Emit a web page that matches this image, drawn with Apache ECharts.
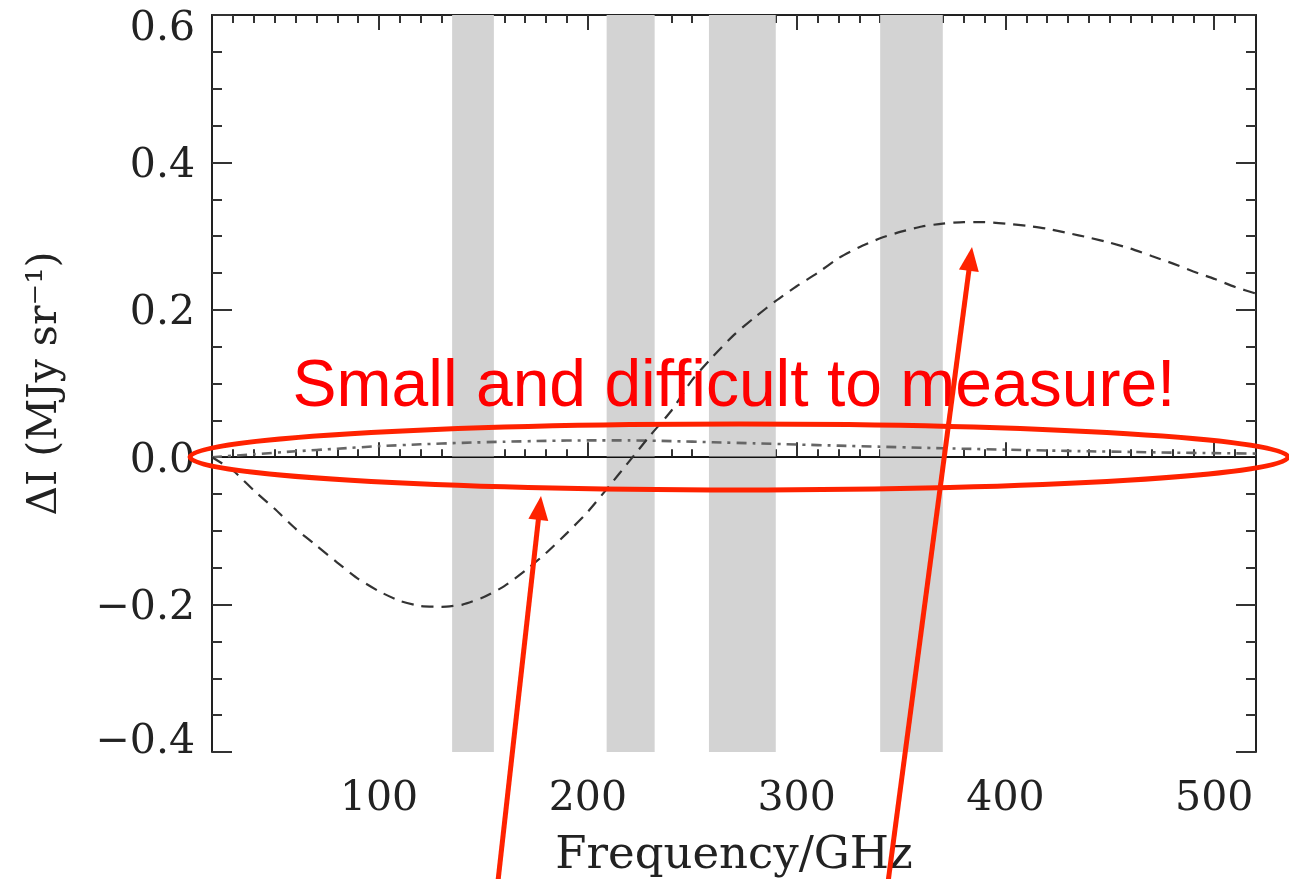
<!DOCTYPE html>
<html>
<head>
<meta charset="utf-8">
<title>SZ spectrum</title>
<script src="https://cdn.jsdelivr.net/npm/echarts@6/dist/echarts.min.js"></script>
<style>
  html, body { margin: 0; padding: 0; background: #fff; }
  #main { width: 1289px; height: 879px; }
</style>
</head>
<body>
<div id="main"></div>
<script>
// frequency grid (GHz)
const freqDash = [20, 30, 40, 50, 60, 70, 80, 90, 100, 110, 120, 130, 140, 150, 160, 170, 180, 190, 200,
  210, 220, 230, 240, 250, 260, 270, 280, 290, 300, 310, 320, 330, 340, 350, 360, 370, 380, 390, 400,
  410, 420, 430, 440, 450, 460, 470, 480, 490, 500, 510, 520]
// dashed curve, MJy/sr
const dashVals = [0.0, -0.018, -0.045, -0.07, -0.097, -0.12, -0.143, -0.165, -0.182, -0.195, -0.202, -0.203,
  -0.2, -0.19, -0.175, -0.154, -0.13, -0.103, -0.074, -0.04, -0.005, 0.03, 0.063, 0.105, 0.137, 0.166,
  0.19, 0.212, 0.232, 0.25, 0.27, 0.285, 0.297, 0.306, 0.313, 0.317, 0.319, 0.319, 0.317, 0.314, 0.31,
  0.304, 0.298, 0.291, 0.283, 0.273, 0.263, 0.252, 0.242, 0.231, 0.222]

const freqDot = [20, 40, 60, 80, 100, 120, 140, 160, 180, 200, 220, 240, 260, 280, 300, 320, 340, 360,
  380, 400, 420, 440, 460, 480, 500, 520]
// dash-dot curve
const dotVals = [0.0, 0.004, 0.008, 0.0115, 0.015, 0.0175, 0.0195, 0.021, 0.0222, 0.0228, 0.0228, 0.0218,
  0.0203, 0.0188, 0.0172, 0.0157, 0.0142, 0.0128, 0.0115, 0.0102, 0.0091, 0.008, 0.0071, 0.0062, 0.0055, 0.0049]

// solid line
const freqSolid = [20, 520]
const solidVals = [0, 0]

// grey frequency bands (GHz)
const bands = [[135, 155], [209, 232], [258, 290], [340, 370]]

const xMajor = [100, 200, 300, 400, 500]
const xMinor = []
for (let f = 30; f < 520; f += 10) {
  if (f % 100 !== 0) xMinor.push(f)
}

const serif = 'DejaVu Serif'
const fs = 41
const red = '#ff2200'
const lab = { fontFamily: serif, fontSize: fs, color: '#222' }

const chart = echarts.init(document.getElementById('main'))

function xAx(pos, ticks, len, withLabel, withLine) {
  return {
    type: 'value',
    position: pos,
    min: 20,
    max: 520,
    axisLine: { show: withLine, lineStyle: { color: '#222', width: 2 } },
    axisTick: { show: true, inside: true, length: len, customValues: ticks, lineStyle: { color: '#333', width: 2 } },
    axisLabel: withLabel
      ? { show: true, customValues: xMajor, margin: 27, ...lab }
      : { show: false },
    splitLine: { show: false },
    name: withLabel ? 'Frequency/GHz' : '',
    nameLocation: 'middle',
    nameGap: 82,
    nameTextStyle: { ...lab, fontSize: 45 }
  }
}

function yAx(pos, withLabel) {
  return {
    type: 'value',
    position: pos,
    min: -0.4,
    max: 0.6,
    interval: 0.2,
    axisLine: { show: true, lineStyle: { color: '#222', width: 2 } },
    axisTick: { show: true, inside: true, length: 20, lineStyle: { color: '#333', width: 2 } },
    minorTick: { show: true, splitNumber: 4, length: 10, lineStyle: { color: '#333', width: 2 } },
    axisLabel: withLabel
      ? {
          show: true, margin: 17, ...lab,
          // end labels pulled inside the frame like the original plot
          formatter: v => {
            const s = v.toFixed(1).replace('-', '\u2212')
            if (v > 0.5) return '{hi|' + s + '}'
            if (v < -0.3) return '{lo|' + s + '}'
            return '{mid|' + s + '}'
          },
          rich: {
            hi: { ...lab, padding: [28, 0, 0, 0] },
            lo: { ...lab, padding: [0, 0, 20, 0] },
            mid: { ...lab, padding: [8, 0, 0, 0] }
          }
        }
      : { show: false },
    splitLine: { show: false },
    minorSplitLine: { show: false },
    name: withLabel ? 'ΔI (MJy sr⁻¹)' : '',
    nameLocation: 'middle',
    nameGap: 146,
    nameTextStyle: lab
  }
}

// arrow = line + triangle head
function arrow(tail, tip) {
  const dx = tip[0] - tail[0]
  const dy = tip[1] - tail[1]
  const len = Math.sqrt(dx * dx + dy * dy)
  const ux = dx / len
  const uy = dy / len
  const hl = 24
  const hw = 10
  const bx = tip[0] - ux * hl
  const by = tip[1] - uy * hl
  return [
    {
      type: 'line', z: 100,
      shape: { x1: tail[0], y1: tail[1], x2: bx + ux * 4, y2: by + uy * 4 },
      style: { stroke: red, lineWidth: 5 }
    },
    {
      type: 'polygon', z: 100,
      shape: { points: [tip, [bx - uy * hw, by + ux * hw], [bx + uy * hw, by - ux * hw]] },
      style: { fill: red }
    }
  ]
}

chart.setOption({
  animation: false,
  grid: { left: 212, right: 33, top: 15, bottom: 127, outerBoundsMode: 'none' },
  xAxis: [
    xAx('bottom', xMajor, 15, true, true),
    xAx('bottom', xMinor, 8, false, false),
    xAx('top', xMajor, 15, false, true),
    xAx('top', xMinor, 8, false, false)
  ],
  yAxis: [yAx('left', true), yAx('right', false)],
  series: [
    {
      type: 'line',
      z: 1,
      silent: true,
      showSymbol: false,
      data: freqSolid.map((f, i) => [f, solidVals[i]]),
      lineStyle: { opacity: 0 },
      markArea: {
        silent: true,
        itemStyle: { color: '#d3d3d3', opacity: 1 },
        data: bands.map(b => [{ xAxis: b[0] }, { xAxis: b[1] }])
      }
    },
    {
      name: 'solid',
      type: 'line',
      z: 3,
      showSymbol: false,
      data: freqSolid.map((f, i) => [f, solidVals[i]]),
      lineStyle: { color: '#111', width: 1.6 }
    },
    {
      name: 'dash-dot',
      type: 'line',
      z: 3,
      showSymbol: false,
      smooth: 0.2,
      data: freqDot.map((f, i) => [f, dotVals[i]]),
      lineStyle: { color: '#666', width: 2.6, type: [10, 6, 3, 6] }
    },
    {
      name: 'dashed',
      type: 'line',
      z: 3,
      showSymbol: false,
      smooth: 0.2,
      data: freqDash.map((f, i) => [f, dashVals[i]]),
      lineStyle: { color: '#333', width: 2.2, type: [12, 8] }
    }
  ],
  graphic: [
    {
      type: 'text', z: 100,
      x: 734, y: 388,
      style: {
        text: 'Small and difficult to measure!',
        fontFamily: 'Liberation Sans', fontSize: 66,
        fill: '#ff0000', align: 'center', verticalAlign: 'middle'
      }
    },
    {
      type: 'ellipse', z: 100,
      shape: { cx: 739, cy: 457, rx: 549, ry: 33 },
      style: { fill: 'none', stroke: red, lineWidth: 5 }
    },
    ...arrow([497, 890], [541, 496]),
    ...arrow([887, 890], [972, 247])
  ]
})
</script>
</body>
</html>
